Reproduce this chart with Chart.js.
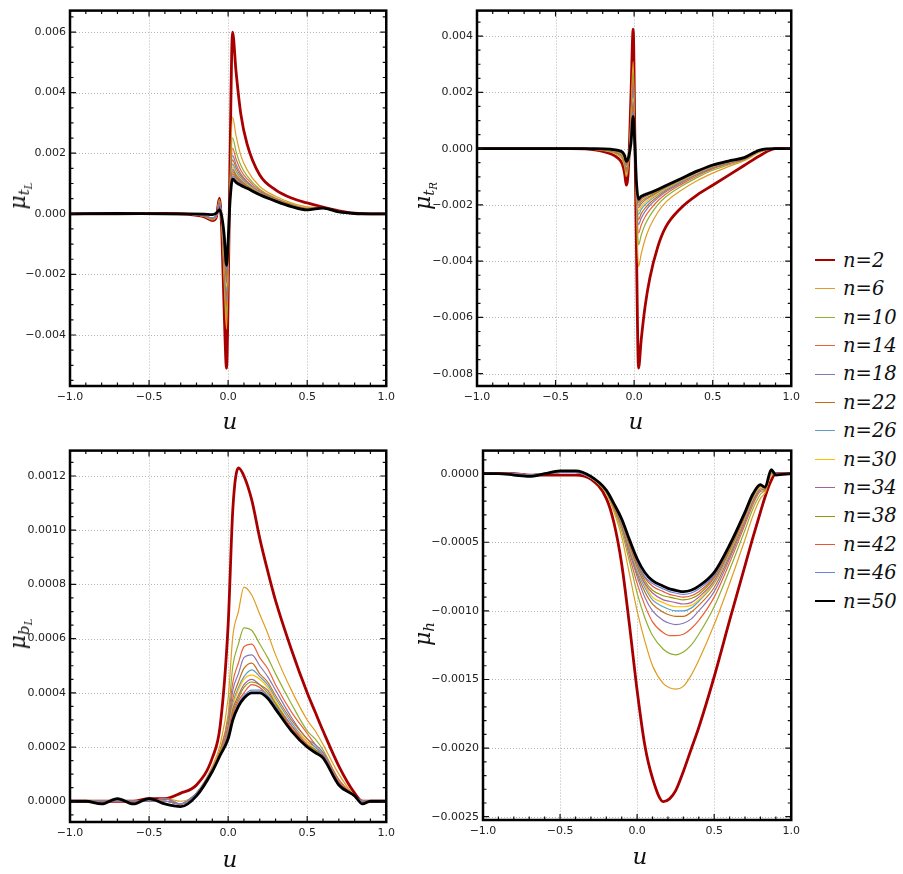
<!DOCTYPE html>
<html>
<head>
<meta charset="utf-8">
<script src="https://cdn.jsdelivr.net/npm/chart.js@4.4.0/dist/chart.umd.min.js"></script>
<style>
  body { margin: 0; background: #fff; width: 903px; height: 874px; position: relative; overflow: hidden; }
  canvas { position: absolute; }
  .ylab { position: absolute; transform: translate(-50%, -50%) rotate(-90deg); font: italic 22px 'DejaVu Serif'; white-space: nowrap; color: #111; line-height: 1; }
  .ylab sub { font-size: 0.68em; vertical-align: -0.28em; line-height: 0; }
  .xlab { position: absolute; transform: translate(-50%, -50%); font: italic 23px 'DejaVu Serif'; color: #111; line-height: 1; }
  .item { position: absolute; left: 815px; height: 20px; width: 90px; }
  .sw { position: absolute; left: 0; width: 20px; top: 10px; }
  .lt { position: absolute; left: 28px; top: 0; font: italic 19.5px 'DejaVu Serif'; line-height: 20px; white-space: nowrap; color: #111; }
</style>
</head>
<body>
<canvas id="chartTL" width="400" height="420" style="left:0px;top:0px"></canvas>
<canvas id="chartTR" width="400" height="420" style="left:405px;top:0px"></canvas>
<canvas id="chartBL" width="400" height="420" style="left:0px;top:440px"></canvas>
<canvas id="chartH" width="400" height="420" style="left:405px;top:440px"></canvas>

<div class="ylab" style="left:18px;top:196px">μ<sub>t<sub>L</sub></sub></div>
<div class="ylab" style="left:423px;top:196px">μ<sub>t<sub>R</sub></sub></div>
<div class="ylab" style="left:18px;top:634px">μ<sub>b<sub>L</sub></sub></div>
<div class="ylab" style="left:423px;top:634px">μ<sub>h</sub></div>

<div class="xlab" style="left:230px;top:421px">u</div>
<div class="xlab" style="left:636px;top:421px">u</div>
<div class="xlab" style="left:230px;top:859px">u</div>
<div class="xlab" style="left:640px;top:856px">u</div>

<div id="legend"></div>

<script>
const nLabels = ['n=2', 'n=6', 'n=10', 'n=14', 'n=18', 'n=22', 'n=26', 'n=30', 'n=34', 'n=38', 'n=42', 'n=46', 'n=50'];
const lineColors = ['#a80000', '#e09c24', '#8fb032', '#eb6235', '#8778b3', '#c56e1a', '#5d9ec7', '#ffbf00', '#a5619d', '#929600', '#e95536', '#6685d9', '#000000'];
const uTicks = [-1, -0.5, 0, 0.5, 1];

// mu_tL
const uTL = [-1, -0.7, -0.4, -0.25, -0.15, -0.1, -0.075, -0.055, -0.04, -0.025, -0.01, 0, 0.012, 0.028, 0.05, 0.08, 0.12, 0.2, 0.3, 0.4, 0.5, 0.6, 0.7, 0.8, 0.9, 1];
const tL_n2 = [0, 0, 0.00001, -0.00002, -0.0001, -0.00022, -0.00012, 0.00052, -0.0006, -0.0032, -0.0051, -0.0028, 0.0018, 0.006, 0.0047, 0.0033, 0.0023, 0.00128, 0.00079, 0.00052, 0.00036, 0.00022, 0.0001, 0.00002, 0, 0];
const tL_n6 = [0, 0, 0, -0.00001, -0.00009, -0.0002, -0.0001, 0.00047, -0.00041, -0.00225, -0.00381, -0.00208, 0.00099, 0.00319, 0.00258, 0.00193, 0.00145, 0.0009, 0.00058, 0.00036, 0.00023, 0.0002, 0.00008, 0.00001, 0, 0];
const tL_n10 = [0, 0, 0, -0.00001, -0.00009, -0.00019, -0.0001, 0.00046, -0.00034, -0.0019, -0.00333, -0.00181, 0.00079, 0.00251, 0.00206, 0.0016, 0.00125, 0.00081, 0.00052, 0.00032, 0.00019, 0.0002, 0.00007, 0.00001, 0, 0];
const tL_n14 = [0, 0, 0, -0.00001, -0.00008, -0.00018, -0.00009, 0.00044, -0.0003, -0.0017, -0.00306, -0.00166, 0.00069, 0.00217, 0.00181, 0.00144, 0.00115, 0.00077, 0.0005, 0.0003, 0.00018, 0.0002, 0.00007, 0.00001, 0, 0];
const tL_n18 = [0, 0, 0, -0.00001, -0.00008, -0.00018, -0.00009, 0.00043, -0.00027, -0.00155, -0.00286, -0.00155, 0.00062, 0.00193, 0.00163, 0.00132, 0.00107, 0.00073, 0.00048, 0.00028, 0.00017, 0.0002, 0.00007, 0.00001, 0, 0];
const tL_n22 = [0, 0, 0, -0.00001, -0.00008, -0.00017, -0.00008, 0.00042, -0.00025, -0.00143, -0.00269, -0.00145, 0.00058, 0.00178, 0.00152, 0.00125, 0.00103, 0.00071, 0.00047, 0.00028, 0.00016, 0.00019, 0.00006, 0.00001, 0, 0];
const tL_n26 = [0, 0, 0, -0.00001, -0.00007, -0.00016, -0.00008, 0.00041, -0.00023, -0.00133, -0.00255, -0.00138, 0.00054, 0.00164, 0.00141, 0.00118, 0.00099, 0.0007, 0.00046, 0.00027, 0.00015, 0.00019, 0.00006, 0.00001, 0, 0];
const tL_n30 = [0, 0, 0, -0.00001, -0.00007, -0.00016, -0.00008, 0.0004, -0.00021, -0.00123, -0.00241, -0.0013, 0.00051, 0.00154, 0.00133, 0.00113, 0.00096, 0.00068, 0.00045, 0.00026, 0.00015, 0.00019, 0.00006, 0.00001, 0, 0];
const tL_n34 = [0, 0, 0, 0, -0.00007, -0.00015, -0.00007, 0.00039, -0.00019, -0.00113, -0.00228, -0.00122, 0.00049, 0.00147, 0.00128, 0.0011, 0.00093, 0.00067, 0.00044, 0.00026, 0.00014, 0.00019, 0.00006, 0.00001, 0, 0];
const tL_n38 = [0, 0, 0, 0, -0.00007, -0.00015, -0.00007, 0.00038, -0.00017, -0.00103, -0.00214, -0.00115, 0.00047, 0.00139, 0.00122, 0.00106, 0.00091, 0.00066, 0.00044, 0.00025, 0.00014, 0.00019, 0.00006, 0.00001, 0, 0];
const tL_n42 = [0, 0, 0, 0, -0.00006, -0.00014, -0.00006, 0.00036, -0.00015, -0.00093, -0.00201, -0.00107, 0.00045, 0.00132, 0.00117, 0.00102, 0.00089, 0.00065, 0.00043, 0.00025, 0.00014, 0.00019, 0.00006, 0.00001, 0, 0];
const tL_n46 = [0, 0, 0, 0, -0.00005, -0.00013, -0.00005, 0.00033, -0.00013, -0.00083, -0.00187, -0.001, 0.00043, 0.00125, 0.00111, 0.00099, 0.00087, 0.00064, 0.00043, 0.00025, 0.00013, 0.00019, 0.00006, 0.00001, 0, 0];
const tL_n50 = [0, 0.00001, 0, 0, -0.00001, -0.00003, 0.00002, 0.00014, -0.0001, -0.0007, -0.0017, -0.0009, 0.0004, 0.00115, 0.00104, 0.00094, 0.00084, 0.00063, 0.00042, 0.00024, 0.00013, 0.00019, 0.00006, 0.00001, 0, 0];
const tLTicks = [-0.004, -0.002, 0, 0.002, 0.004, 0.006];

// mu_tR
const uTR = [-1, -0.7, -0.4, -0.25, -0.15, -0.1, -0.075, -0.06, -0.05, -0.035, -0.02, -0.006, 0.005, 0.015, 0.028, 0.045, 0.07, 0.1, 0.15, 0.2, 0.3, 0.4, 0.5, 0.6, 0.7, 0.8, 0.9, 1];
const tR_n2 = [0, 0, 0, -0.00004, -0.00018, -0.00035, -0.00055, -0.0009, -0.0013, -0.0006, 0.0019, 0.00425, 0.0003, -0.0036, -0.0078, -0.0068, -0.0056, -0.0046, -0.0035, -0.0028, -0.0021, -0.00165, -0.0013, -0.00095, -0.0006, -0.00025, 0, 0];
const tR_n6 = [0, 0, 0, -0.00003, -0.00012, -0.00024, -0.00039, -0.00066, -0.00099, -0.00049, 0.00127, 0.0031, 0.00023, -0.00216, -0.0042, -0.00374, -0.00322, -0.00278, -0.00227, -0.00191, -0.00148, -0.00114, -0.00087, -0.00064, -0.00043, -0.00013, 0, 0];
const tR_n10 = [0, 0, 0, -0.00002, -0.0001, -0.0002, -0.00033, -0.00056, -0.00086, -0.00044, 0.00102, 0.00264, 0.0002, -0.00185, -0.00342, -0.00308, -0.0027, -0.00239, -0.002, -0.00172, -0.00134, -0.00103, -0.00077, -0.00058, -0.0004, -0.0001, 0, 0];
const tR_n14 = [0, 0, 0, -0.00002, -0.00008, -0.00018, -0.00029, -0.00051, -0.00079, -0.00042, 0.00088, 0.00239, 0.00018, -0.00168, -0.003, -0.00272, -0.00242, -0.00218, -0.00186, -0.00162, -0.00127, -0.00097, -0.00072, -0.00054, -0.00038, -0.00009, 0, 0];
const tR_n18 = [0, 0, 0, -0.00001, -0.00007, -0.00016, -0.00027, -0.00047, -0.00074, -0.0004, 0.00078, 0.0022, 0.00017, -0.00156, -0.0027, -0.00247, -0.00223, -0.00202, -0.00176, -0.00154, -0.00122, -0.00093, -0.00069, -0.00052, -0.00036, -0.00008, 0, 0];
const tR_n22 = [0, 0, 0, -0.00001, -0.00007, -0.00014, -0.00024, -0.00044, -0.0007, -0.00039, 0.00069, 0.00205, 0.00016, -0.00149, -0.00252, -0.00231, -0.00211, -0.00193, -0.0017, -0.0015, -0.00118, -0.0009, -0.00067, -0.0005, -0.00035, -0.00007, 0, 0];
const tR_n26 = [0, 0, 0, -0.00001, -0.00006, -0.00013, -0.00023, -0.00041, -0.00066, -0.00038, 0.00063, 0.00193, 0.00015, -0.00142, -0.00234, -0.00216, -0.00199, -0.00184, -0.00163, -0.00145, -0.00115, -0.00088, -0.00064, -0.00049, -0.00035, -0.00007, 0, 0];
const tR_n30 = [0, 0, 0, -0.00001, -0.00005, -0.00012, -0.00021, -0.00039, -0.00063, -0.00036, 0.00056, 0.0018, 0.00014, -0.00137, -0.00222, -0.00206, -0.00191, -0.00178, -0.00159, -0.00142, -0.00113, -0.00086, -0.00063, -0.00048, -0.00034, -0.00006, 0, 0];
const tR_n34 = [0, 0, 0, 0, -0.00005, -0.00011, -0.00019, -0.00036, -0.0006, -0.00035, 0.00049, 0.00168, 0.00013, -0.00132, -0.0021, -0.00196, -0.00183, -0.00172, -0.00155, -0.00139, -0.00111, -0.00084, -0.00062, -0.00047, -0.00033, -0.00006, 0, 0];
const tR_n38 = [0, 0, 0, 0, -0.00004, -0.0001, -0.00018, -0.00033, -0.00056, -0.00034, 0.00042, 0.00155, 0.00012, -0.00128, -0.00201, -0.00188, -0.00177, -0.00168, -0.00152, -0.00137, -0.0011, -0.00083, -0.00061, -0.00046, -0.00033, -0.00006, 0, 0];
const tR_n42 = [0, 0, 0, 0, -0.00003, -0.00009, -0.00016, -0.00031, -0.00053, -0.00033, 0.00035, 0.00143, 0.00011, -0.00125, -0.00192, -0.0018, -0.00171, -0.00163, -0.00149, -0.00135, -0.00108, -0.00082, -0.0006, -0.00045, -0.00033, -0.00005, 0, 0];
const tR_n46 = [0, 0, 0, 0, -0.00003, -0.00007, -0.00014, -0.00028, -0.00049, -0.00032, 0.00029, 0.0013, 0.0001, -0.00122, -0.00186, -0.00175, -0.00167, -0.0016, -0.00147, -0.00133, -0.00107, -0.00081, -0.00059, -0.00045, -0.00032, -0.00005, 0, 0];
const tR_n50 = [0, 0, 0, 0, -0.00002, -0.00006, -0.00012, -0.00025, -0.00045, -0.0003, 0.0002, 0.00115, 0.0001, -0.0012, -0.0018, -0.0017, -0.00163, -0.00157, -0.00145, -0.00132, -0.00106, -0.0008, -0.00058, -0.00044, -0.00032, -0.00005, 0, 0];
const tRTicks = [-0.008, -0.006, -0.004, -0.002, 0, 0.002, 0.004];

// mu_bL
const uBL = [-1, -0.9, -0.8, -0.7, -0.6, -0.5, -0.4, -0.3, -0.2, -0.1, -0.05, 0, 0.03, 0.065, 0.1, 0.15, 0.2, 0.25, 0.3, 0.4, 0.5, 0.55, 0.6, 0.7, 0.8, 0.85, 0.9, 1];
const bL_n2 = [0, 0, 0, 0, 0, 0.00001, 0.00001, 0.00003, 0.00006, 0.00016, 0.00028, 0.00065, 0.00108, 0.00123, 0.0012, 0.00111, 0.00097, 0.00085, 0.00074, 0.00056, 0.0004, 0.00033, 0.00026, 0.00013, 0.00003, 0, 0, 0];
const bL_n6 = [0, 0, 0, 0, 0, 0, 0.00001, 0, 0.00003, 0.00013, 0.00021, 0.00038, 0.00061, 0.0007, 0.00079, 0.00076, 0.00069, 0.00062, 0.00054, 0.00041, 0.0003, 0.00026, 0.00021, 0.0001, 0.00002, 0, 0, 0];
const bL_n10 = [0, 0, 0, 0, 0, 0, 0.00001, -0.00001, 0.00003, 0.00012, 0.00019, 0.00032, 0.0005, 0.00058, 0.00064, 0.00063, 0.00058, 0.00053, 0.00047, 0.00036, 0.00026, 0.00023, 0.00019, 0.00008, 0.00002, 0, 0, 0];
const bL_n14 = [0, 0, 0, 0, 0, 0, 0.00001, -0.00001, 0.00003, 0.00012, 0.00019, 0.0003, 0.00044, 0.00051, 0.00057, 0.00058, 0.00053, 0.00049, 0.00043, 0.00033, 0.00025, 0.00021, 0.00018, 0.00008, 0.00002, 0, 0, 0];
const bL_n18 = [0, 0, 0, 0, 0, 0, 0.00001, -0.00001, 0.00003, 0.00012, 0.00018, 0.00028, 0.00041, 0.00047, 0.00053, 0.00054, 0.0005, 0.00046, 0.00041, 0.00031, 0.00023, 0.00021, 0.00018, 0.00007, 0.00002, 0, 0, 0];
const bL_n22 = [0, 0, 0, 0, 0, 0, 0, -0.00001, 0.00003, 0.00011, 0.00018, 0.00027, 0.00038, 0.00044, 0.00049, 0.00051, 0.00047, 0.00044, 0.00039, 0.0003, 0.00023, 0.0002, 0.00017, 0.00007, 0.00002, 0, 0, 0];
const bL_n26 = [0, 0, 0, 0, 0, 0, 0, -0.00001, 0.00003, 0.00011, 0.00018, 0.00026, 0.00036, 0.00042, 0.00046, 0.000485, 0.00046, 0.00043, 0.00038, 0.00029, 0.00022, 0.0002, 0.00017, 0.00007, 0.00002, 0, 0, 0];
const bL_n30 = [0, 0, 0, 0, 0, 0, 0, -0.00001, 0.00003, 0.00011, 0.00018, 0.00025, 0.00035, 0.00041, 0.00045, 0.000465, 0.00045, 0.00042, 0.00037, 0.00028, 0.00022, 0.00019, 0.00017, 0.00007, 0.00002, 0, 0, 0];
const bL_n34 = [0, 0, 0, 0, 0, 0, 0, -0.00001, 0.00003, 0.00011, 0.00018, 0.00025, 0.00034, 0.00039, 0.00043, 0.00045, 0.00043, 0.00041, 0.00036, 0.00028, 0.00021, 0.00019, 0.00017, 0.00007, 0.00002, 0, 0, 0];
const bL_n38 = [0, 0, 0, 0, 0, 0, 0, -0.00001, 0.00003, 0.00011, 0.00018, 0.00024, 0.00033, 0.00038, 0.00042, 0.00044, 0.00043, 0.0004, 0.00036, 0.00027, 0.00021, 0.00019, 0.00016, 0.00006, 0.00002, 0, 0, 0];
const bL_n42 = [0, 0, 0, 0, 0, 0, 0, -0.00001, 0.00003, 0.00011, 0.00017, 0.00024, 0.00032, 0.00037, 0.0004, 0.00043, 0.00042, 0.00039, 0.00035, 0.00027, 0.00021, 0.00018, 0.00016, 0.00006, 0.00002, 0, 0, 0];
const bL_n46 = [0, 0, 0, 0, 0, 0, 0, -0.00001, 0.00003, 0.00011, 0.00017, 0.00023, 0.00031, 0.00036, 0.00039, 0.00041, 0.00041, 0.00039, 0.00035, 0.00026, 0.0002, 0.00018, 0.00016, 0.00006, 0.00002, 0, 0, 0];
const bL_n50 = [0, 0, -0.00001, 0.00001, -0.00001, 0.00001, -0.00001, -0.00002, 0.00002, 0.00011, 0.00017, 0.00023, 0.0003, 0.00035, 0.00038, 0.0004, 0.0004, 0.00038, 0.00034, 0.00026, 0.0002, 0.00018, 0.00016, 0.00006, 0.00002, -0.00001, 0, 0];
const bLTicks = [0, 0.0002, 0.0004, 0.0006, 0.0008, 0.001, 0.0012];

// mu_h
const uH = [-1, -0.9, -0.8, -0.7, -0.6, -0.5, -0.4, -0.3, -0.2, -0.15, -0.1, -0.05, 0, 0.05, 0.1, 0.17, 0.21, 0.25, 0.3, 0.35, 0.4, 0.5, 0.6, 0.7, 0.75, 0.8, 0.83, 0.87, 0.9, 1];
const h_n2 = [0, 0, 0, -0.00001, -0.00001, -0.00001, -0.00001, -0.00004, -0.00018, -0.00036, -0.00066, -0.0011, -0.00158, -0.00198, -0.00222, -0.00239, -0.00237, -0.00231, -0.00217, -0.00201, -0.00185, -0.00148, -0.00107, -0.00067, -0.00047, -0.00028, -0.00017, -0.00005, 0, 0];
const h_n6 = [0, 0, 0, -0.00001, 0, 0.00001, 0.00001, -0.00003, -0.00014, -0.00028, -0.00046, -0.00073, -0.001, -0.00122, -0.0014, -0.00153, -0.00156, -0.00157, -0.00155, -0.00147, -0.00136, -0.0011, -0.0008, -0.00048, -0.00031, -0.00018, -0.00014, -0.00001, 0, 0];
const h_n10 = [0, 0, 0, -0.00001, 0, 0.00001, 0.00001, -0.00003, -0.00014, -0.00026, -0.00042, -0.00064, -0.00087, -0.00105, -0.00118, -0.00128, -0.00131, -0.00132, -0.0013, -0.00125, -0.00117, -0.00097, -0.0007, -0.00041, -0.00026, -0.00015, -0.00012, 0, 0, 0];
const h_n14 = [0, 0, 0, -0.00001, 0, 0.00001, 0.00001, -0.00003, -0.00013, -0.00025, -0.00039, -0.0006, -0.0008, -0.00096, -0.00108, -0.00116, -0.00118, -0.00118, -0.00117, -0.00113, -0.00107, -0.0009, -0.00065, -0.00037, -0.00023, -0.00013, -0.00012, 0.00001, 0, 0];
const h_n18 = [0, 0, 0, -0.00001, 0, 0.00001, 0.00001, -0.00003, -0.00013, -0.00024, -0.00038, -0.00057, -0.00075, -0.0009, -0.001, -0.00107, -0.00109, -0.0011, -0.00109, -0.00106, -0.001, -0.00086, -0.00062, -0.00035, -0.00021, -0.00012, -0.00011, 0.00002, 0, 0];
const h_n22 = [0, 0, 0, -0.00001, 0, 0.00001, 0.00001, -0.00003, -0.00013, -0.00024, -0.00037, -0.00055, -0.00073, -0.00086, -0.00095, -0.00101, -0.00103, -0.00104, -0.00104, -0.00101, -0.00096, -0.00083, -0.0006, -0.00033, -0.0002, -0.00011, -0.00011, 0.00002, 0, 0];
const h_n26 = [0, 0, 0, -0.00001, 0, 0.00001, 0.00001, -0.00003, -0.00013, -0.00023, -0.00036, -0.00054, -0.00071, -0.00083, -0.00092, -0.00097, -0.00099, -0.001, -0.001, -0.00098, -0.00093, -0.0008, -0.00058, -0.00032, -0.00019, -0.0001, -0.00011, 0.00002, 0, 0];
const h_n30 = [0, 0, 0, -0.00001, 0, 0.00001, 0.00001, -0.00003, -0.00013, -0.00023, -0.00035, -0.00053, -0.00069, -0.00081, -0.0009, -0.00094, -0.00096, -0.00097, -0.00097, -0.00096, -0.00092, -0.00079, -0.00057, -0.00032, -0.00018, -0.0001, -0.00011, 0.00002, 0, 0];
const h_n34 = [0, 0, 0, -0.00001, 0, 0.00001, 0.00001, -0.00003, -0.00012, -0.00023, -0.00035, -0.00052, -0.00068, -0.0008, -0.00087, -0.00092, -0.00093, -0.00094, -0.00095, -0.00094, -0.0009, -0.00078, -0.00056, -0.00031, -0.00017, -0.00009, -0.0001, 0.00002, 0, 0];
const h_n38 = [0, 0, 0, -0.00001, 0, 0.00001, 0.00001, -0.00003, -0.00012, -0.00022, -0.00034, -0.00051, -0.00066, -0.00078, -0.00085, -0.00089, -0.0009, -0.00091, -0.00092, -0.00091, -0.00088, -0.00076, -0.00055, -0.0003, -0.00017, -0.00009, -0.0001, 0.00002, 0, 0];
const h_n42 = [0, 0, 0, -0.00001, 0, 0.00001, 0.00001, -0.00003, -0.00012, -0.00022, -0.00034, -0.0005, -0.00065, -0.00076, -0.00082, -0.00086, -0.00088, -0.00089, -0.0009, -0.00089, -0.00086, -0.00075, -0.00054, -0.0003, -0.00016, -0.00009, -0.0001, 0.00002, 0, 0];
const h_n46 = [0, 0, 0, -0.00001, 0, 0.00001, 0.00001, -0.00003, -0.00012, -0.00022, -0.00034, -0.00049, -0.00064, -0.00075, -0.0008, -0.00084, -0.00086, -0.00087, -0.00088, -0.00087, -0.00084, -0.00074, -0.00053, -0.00029, -0.00016, -0.00009, -0.0001, 0.00003, 0, 0];
const h_n50 = [0, 0, -0.00001, -0.00002, 0, 0.00002, 0.00002, -0.00002, -0.00012, -0.00022, -0.00033, -0.00048, -0.00062, -0.00072, -0.00078, -0.00082, -0.00084, -0.00085, -0.00086, -0.00085, -0.00082, -0.00072, -0.00052, -0.00028, -0.00015, -0.00008, -0.0001, 0.00003, -0.00001, 0];
const hTicks = [-0.0025, -0.002, -0.0015, -0.001, -0.0005, 0];

const tLSeries = [tL_n2, tL_n6, tL_n10, tL_n14, tL_n18, tL_n22, tL_n26, tL_n30, tL_n34, tL_n38, tL_n42, tL_n46, tL_n50];
const tRSeries = [tR_n2, tR_n6, tR_n10, tR_n14, tR_n18, tR_n22, tR_n26, tR_n30, tR_n34, tR_n38, tR_n42, tR_n46, tR_n50];
const bLSeries = [bL_n2, bL_n6, bL_n10, bL_n14, bL_n18, bL_n22, bL_n26, bL_n30, bL_n34, bL_n38, bL_n42, bL_n46, bL_n50];
const hSeries = [h_n2, h_n6, h_n10, h_n14, h_n18, h_n22, h_n26, h_n30, h_n34, h_n38, h_n42, h_n46, h_n50];


Chart.defaults.font.family = 'DejaVu Sans';
Chart.defaults.font.size = 11;
Chart.defaults.color = '#222';

function fmt(v, d) {
    let s = Math.abs(v).toFixed(d);
    return (v < -1e-12 ? '\u2212' : '') + s;
}

function stepValues(min, max, step) {
    let out = [];
    let k0 = Math.ceil(min / step - 1e-6);
    let k1 = Math.floor(max / step + 1e-6);
    for (let k = k0; k <= k1; k++) out.push(k * step);
    return out;
}

function isMajor(v, majors) {
    return majors.some(m => Math.abs(m - v) < 1e-9);
}

// dotted grid under the curves, frame with inward ticks on top
const framePlugin = {
    id: 'frame',
    beforeDatasetsDraw(chart, args, opts) {
        let ctx = chart.ctx, a = chart.chartArea;
        let sx = chart.scales.x, sy = chart.scales.y;
        ctx.save();
        ctx.strokeStyle = '#b5b5b5';
        ctx.lineWidth = 1;
        ctx.setLineDash([1, 2]);
        ctx.beginPath();
        uTicks.forEach(v => {
            if (v <= -1 || v >= 1) return;
            let px = Math.round(sx.getPixelForValue(v)) + 0.5;
            ctx.moveTo(px, a.top);
            ctx.lineTo(px, a.bottom);
        });
        opts.yTicks.forEach(v => {
            let py = Math.round(sy.getPixelForValue(v)) + 0.5;
            ctx.moveTo(a.left, py);
            ctx.lineTo(a.right, py);
        });
        ctx.stroke();
        ctx.restore();
    },
    afterDatasetsDraw(chart, args, opts) {
        let ctx = chart.ctx, a = chart.chartArea;
        let sx = chart.scales.x, sy = chart.scales.y;
        ctx.save();
        ctx.strokeStyle = '#111';
        ctx.lineWidth = 1.2;
        ctx.beginPath();
        stepValues(-1, 1, 0.1).forEach(v => {
            let px = sx.getPixelForValue(v);
            let len = isMajor(v, uTicks) ? 6 : 3.5;
            ctx.moveTo(px, a.bottom);
            ctx.lineTo(px, a.bottom - len);
            ctx.moveTo(px, a.top);
            ctx.lineTo(px, a.top + len);
        });
        stepValues(sy.min, sy.max, opts.yMinor).forEach(v => {
            let py = sy.getPixelForValue(v);
            let len = isMajor(v, opts.yTicks) ? 6 : 3.5;
            ctx.moveTo(a.left, py);
            ctx.lineTo(a.left + len, py);
            ctx.moveTo(a.right, py);
            ctx.lineTo(a.right - len, py);
        });
        ctx.stroke();
        ctx.lineWidth = 2.5;
        ctx.strokeStyle = '#000';
        ctx.strokeRect(a.left, a.top, a.right - a.left, a.bottom - a.top);
        ctx.restore();
    }
};

function makePanel(id, box, xs, series, yMin, yMax, yTicks, yMinor, digits) {
    let context = document.querySelector('#' + id).getContext('2d');
    let datasets = [];
    // n=50 gets the lowest order so it is painted on top
    for (let i = 0; i < series.length; i++) {
        datasets.push({
            data: xs.map((u, k) => ({ x: u, y: series[i][k] })),
            borderColor: lineColors[i],
            borderWidth: (i == 0 || i == series.length - 1) ? 2.8 : 1.2,
            pointRadius: 0,
            cubicInterpolationMode: 'monotone',
            fill: false,
            order: series.length - i
        });
    }
    let config = {
        type: 'line',
        data: { datasets: datasets },
        options: {
            responsive: false,
            animation: false,
            layout: { padding: { left: 0, top: box.top, right: box.right, bottom: box.bottom } },
            plugins: {
                legend: { display: false },
                tooltip: { enabled: false },
                frame: { yTicks: yTicks, yMinor: yMinor }
            },
            scales: {
                x: {
                    type: 'linear',
                    min: -1,
                    max: 1,
                    afterBuildTicks: axis => { axis.ticks = uTicks.map(v => ({ value: v })); },
                    afterFit: axis => { axis.height = 20; },
                    grid: { display: false, drawTicks: false },
                    border: { display: false },
                    ticks: { padding: 5, maxRotation: 0, autoSkip: false, callback: v => fmt(v, 1) }
                },
                y: {
                    type: 'linear',
                    min: yMin,
                    max: yMax,
                    afterBuildTicks: axis => { axis.ticks = yTicks.map(v => ({ value: v })); },
                    afterFit: axis => { axis.width = box.yw; },
                    grid: { display: false, drawTicks: false },
                    border: { display: false },
                    ticks: { padding: 4, autoSkip: false, callback: v => fmt(v, digits) }
                }
            }
        },
        plugins: [framePlugin]
    };
    return new Chart(context, config);
}

let chartTL = makePanel('chartTL', { yw: 70, top: 6, right: 13, bottom: 14 }, uTL, tLSeries, -0.005684, 0.006708, tLTicks, 0.0005, 3);
let chartTR = makePanel('chartTR', { yw: 72, top: 6, right: 11, bottom: 14 }, uTR, tRSeries, -0.008438, 0.004908, tRTicks, 0.0005, 3);
let chartBL = makePanel('chartBL', { yw: 70, top: 6, right: 13, bottom: 18 }, uBL, bLSeries, -0.0000765, 0.0012937, bLTicks, 0.00005, 4);
let chartH = makePanel('chartH', { yw: 78, top: 6, right: 11, bottom: 20 }, uH, hSeries, -0.002524, 0.000168, hTicks, 0.0001, 4);

// legend
let legend = document.getElementById('legend');
for (let i = 0; i < nLabels.length; i++) {
    let item = document.createElement('div');
    item.className = 'item';
    item.style.top = (260.7 + i * 28.4 - 10) + 'px';
    let thick = (i == 0 || i == nLabels.length - 1) ? 2.6 : 1.4;
    item.innerHTML = '<div class="sw" style="border-top:' + thick + 'px solid ' + lineColors[i] + ';margin-top:' + (-thick / 2) + 'px"></div>' +
        '<div class="lt">' + nLabels[i] + '</div>';
    legend.appendChild(item);
}
</script>
</body>
</html>
